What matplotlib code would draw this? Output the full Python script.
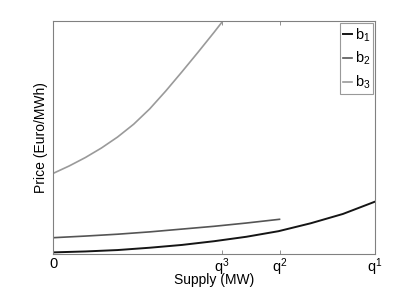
import matplotlib
matplotlib.use("Agg")
import matplotlib.pyplot as plt

plt.rcParams['font.family'] = ['Liberation Sans', 'DejaVu Sans']
plt.rcParams['mathtext.fontset'] = 'custom'
plt.rcParams['mathtext.rm'] = 'Liberation Sans'
plt.rcParams['mathtext.it'] = 'Liberation Sans'

## supply points (fraction of q1) and prices
b1_x = [0.0, 0.1, 0.2, 0.3, 0.4, 0.5, 0.6, 0.7, 0.8, 0.9, 1.0]
b1_y = [0.007, 0.011, 0.017, 0.027, 0.039, 0.055, 0.074, 0.098, 0.132, 0.172, 0.225]

b2_x = [0.0, 0.1, 0.2, 0.3, 0.4, 0.5, 0.6, 0.703]
b2_y = [0.070, 0.077, 0.085, 0.095, 0.107, 0.119, 0.133, 0.149]

b3_x = [0.0, 0.05, 0.10, 0.15, 0.20, 0.25, 0.30, 0.35, 0.40, 0.45, 0.50, 0.527]
b3_y = [0.346, 0.378, 0.414, 0.455, 0.502, 0.557, 0.623, 0.700, 0.782, 0.866, 0.952, 1.0]

tick_pos = [0.0, 0.525, 0.703, 1.0]
tick_labels = ['0', 'q$^3$', 'q$^2$', 'q$^1$']

fig = plt.figure(figsize=(4.15, 2.88), dpi=100)
ax = fig.add_axes([0.128, 0.118, 0.776, 0.809])

ax.plot(b1_x, b1_y, color='#151515', lw=1.4, label='b$_1$')
ax.plot(b2_x, b2_y, color='#555555', lw=1.2, label='b$_2$')
ax.plot(b3_x, b3_y, color='#9a9a9a', lw=1.2, label='b$_3$')

ax.set_xlim(0, 1)
ax.set_ylim(0, 1)
ax.set_xticks(tick_pos, tick_labels)
ax.set_yticks([])
ax.tick_params(axis='x', direction='in', top=True, length=3, width=0.6,
               color='#808080', labelsize=10.5, pad=2)
for s in ax.spines.values():
    s.set_color('#808080')
    s.set_linewidth(0.8)

ax.set_xlabel('Supply (MW)', fontsize=10, labelpad=-4)
ax.set_ylabel('Price (Euro/MWh)', fontsize=10, labelpad=4)

leg = ax.legend(loc='upper right', handlelength=0.6, handletextpad=0.2,
                borderpad=0.2, labelspacing=0.45, fontsize=10.5, fancybox=False,
                borderaxespad=0.15, frameon=True)
leg.get_frame().set_edgecolor('#808080')
leg.get_frame().set_linewidth(0.8)

fig.savefig('out.png', dpi=100)
